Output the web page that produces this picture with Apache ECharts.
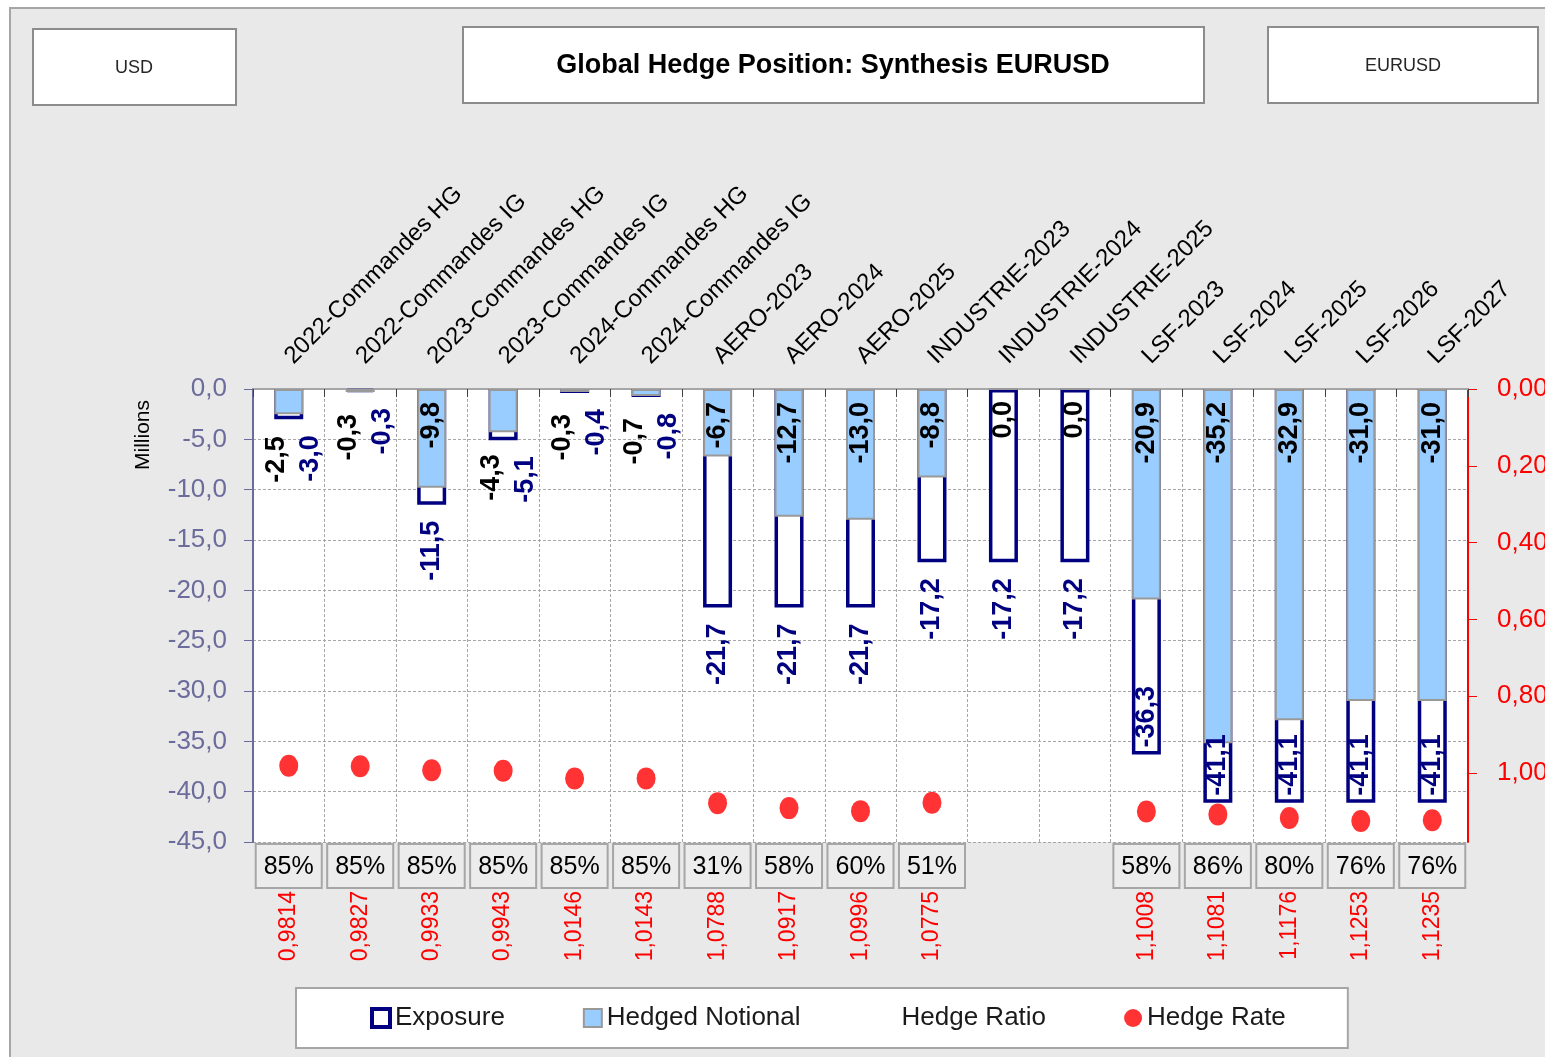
<!DOCTYPE html>
<html>
<head>
<meta charset="utf-8">
<script src="https://cdn.jsdelivr.net/npm/echarts@6/dist/echarts.min.js"></script>
<style>
  html, body { margin: 0; padding: 0; background: #ffffff; }
  #chart { width: 1545px; height: 1057px; }
</style>
</head>
<body>
<div id="chart"></div>
<script>
// ---------- data ----------
const categories = [
  '2022-Commandes HG', '2022-Commandes IG', '2023-Commandes HG', '2023-Commandes IG',
  '2024-Commandes HG', '2024-Commandes IG', 'AERO-2023', 'AERO-2024', 'AERO-2025',
  'INDUSTRIE-2023', 'INDUSTRIE-2024', 'INDUSTRIE-2025',
  'LSF-2023', 'LSF-2024', 'LSF-2025', 'LSF-2026', 'LSF-2027'
];
const exposure = [-3.0, -0.3, -11.5, -5.1, -0.4, -0.8, -21.7, -21.7, -21.7, -17.2, -17.2, -17.2, -36.3, -41.1, -41.1, -41.1, -41.1];
const hedgedNotional = [-2.5, -0.3, -9.8, -4.3, -0.3, -0.7, -6.7, -12.7, -13.0, -8.8, 0.0, 0.0, -20.9, -35.2, -32.9, -31.0, -31.0];
const hedgeRatio = [85, 85, 85, 85, 85, 85, 31, 58, 60, 51, null, null, 58, 86, 80, 76, 76];
const hedgeRate = [0.9814, 0.9827, 0.9933, 0.9943, 1.0146, 1.0143, 1.0788, 1.0917, 1.0996, 1.0775, null, null, 1.1008, 1.1081, 1.1176, 1.1253, 1.1235];
const leftAxis = { min: -45, max: 0, interval: 5 };
const rightAxis = { min: 0, max: 1.18, interval: 0.2 };
const titleText = 'Global Hedge Position: Synthesis EURUSD';
const currencyText = 'USD';
const pairText = 'EURUSD';
const unitText = 'Millions';

// ---------- helpers ----------
const FONT = "'Liberation Sans', Arial, sans-serif";
const comma1 = v => (v == null ? '' : Number(v).toFixed(1).replace('.', ','));
const comma2 = v => Number(v).toFixed(2).replace('.', ',');
const comma4 = v => (v == null ? '' : Number(v).toFixed(4).replace('.', ','));

const barLabelBase = {
  show: true, rotate: 90, fontFamily: FONT, fontSize: 27, fontWeight: 'bold',
  verticalAlign: 'middle', formatter: p => comma1(p.value)
};

// rotated labels: offset is in the text's own (rotated) frame -> [along text, across text]
function exposureLabel(v) {
  if (v <= -30) {
    return Object.assign({}, barLabelBase, { color: '#000080', position: 'insideBottom', align: 'left', distance: 7 });
  }
  const l = Object.assign({}, barLabelBase, { color: '#000080', position: 'bottom', align: 'right', distance: 16 });
  if (v > -6) l.offset = [0, 22];
  return l;
}
function hedgedLabel(v) {
  if (v === 0 || v <= -5) {
    return Object.assign({}, barLabelBase, { color: '#000000', position: 'insideTop', align: 'right', distance: 13 });
  }
  return Object.assign({}, barLabelBase, { color: '#000000', position: 'bottom', align: 'right', distance: 22, offset: [0, -12] });
}

const chart = echarts.init(document.getElementById('chart'), null, { renderer: 'canvas' });

const option = {
  animation: false,
  backgroundColor: '#ffffff',
  textStyle: { fontFamily: FONT },
  graphic: [
    { type: 'rect', z: -10, shape: { x: 10, y: 8, width: 1600, height: 1100 },
      style: { fill: '#e9e9e9', stroke: '#a6a6a6', lineWidth: 2 } },
    { type: 'rect', z: -5, shape: { x: 33, y: 29, width: 203, height: 76 },
      style: { fill: '#ffffff', stroke: '#8c8c8c', lineWidth: 2 } },
    { type: 'text', z: -4, x: 134, y: 68,
      style: { text: currencyText, fontFamily: FONT, fontSize: 18, fill: '#262626', align: 'center', verticalAlign: 'middle' } },
    { type: 'rect', z: -5, shape: { x: 463, y: 27, width: 741, height: 76 },
      style: { fill: '#ffffff', stroke: '#8c8c8c', lineWidth: 2 } },
    { type: 'text', z: -4, x: 833, y: 66,
      style: { text: titleText, fontFamily: FONT, fontSize: 27, fontWeight: 'bold', fill: '#000000', align: 'center', verticalAlign: 'middle' } },
    { type: 'rect', z: -5, shape: { x: 1268, y: 27, width: 270, height: 76 },
      style: { fill: '#ffffff', stroke: '#8c8c8c', lineWidth: 2 } },
    { type: 'text', z: -4, x: 1403, y: 66,
      style: { text: pairText, fontFamily: FONT, fontSize: 18, fill: '#262626', align: 'center', verticalAlign: 'middle' } },
    { type: 'text', x: 143, y: 435, rotation: Math.PI / 2,
      style: { text: unitText, fontFamily: FONT, fontSize: 21, fill: '#000000', align: 'center', verticalAlign: 'middle' } }
  ],
  grid: {
    left: 253, top: 389, width: 1215, height: 453,
    show: true, backgroundColor: '#ffffff', borderWidth: 0,
    containLabel: false, outerBoundsMode: 'none'
  },
  legend: {
    left: 296, top: 988,
    padding: [17, 62, 17, 74],
    itemGap: 78, itemWidth: 18, itemHeight: 18,
    backgroundColor: '#ffffff', borderColor: '#a6a6a6', borderWidth: 2, borderRadius: 0,
    textStyle: { fontFamily: FONT, fontSize: 26, color: '#1a1a1a' },
    data: [
      { name: 'Exposure', icon: 'rect', itemStyle: { borderWidth: 4, borderColor: '#000080', color: '#ffffff' } },
      { name: 'Hedged Notional', icon: 'rect', itemStyle: { borderWidth: 2, borderColor: '#999999', color: '#99ccff' } },
      { name: 'Hedge Ratio', icon: 'rect', itemStyle: { opacity: 0 }, lineStyle: { opacity: 0 } },
      { name: 'Hedge Rate', icon: 'circle' }
    ]
  },
  xAxis: [
    {
      type: 'category', position: 'top', data: categories, boundaryGap: true,
      axisLine: { show: true, lineStyle: { color: '#595959', width: 2 } },
      axisTick: { show: true, inside: true, length: 8, lineStyle: { color: '#404040', width: 1 } },
      axisLabel: { rotate: 45, margin: 29, interval: 0, fontFamily: FONT, fontSize: 24, color: '#000000' },
      splitLine: { show: true, lineStyle: { color: '#a6a6a6', type: [3, 2], width: 1 } }
    },
    {
      type: 'category', position: 'bottom', data: categories, boundaryGap: true,
      axisLine: { show: true, lineStyle: { color: '#a6a6a6', width: 2 } },
      axisTick: { show: false },
      splitLine: { show: false },
      axisLabel: {
        interval: 0, margin: 3,
        formatter: (val, idx) => hedgeRatio[idx] == null ? '' : '{b|' + hedgeRatio[idx] + '%}',
        rich: {
          b: {
            fontFamily: FONT, fontSize: 25, color: '#000000',
            backgroundColor: '#ececec', borderColor: '#a6a6a6', borderWidth: 2,
            padding: [10, 7, 7, 7]
          }
        }
      }
    },
    {
      type: 'category', position: 'bottom', data: categories, boundaryGap: true,
      axisLine: { show: false }, axisTick: { show: false }, splitLine: { show: false },
      axisLabel: {
        interval: 0, rotate: 90, margin: 49,
        fontFamily: FONT, fontSize: 23, color: '#ff0000',
        formatter: (val, idx) => comma4(hedgeRate[idx])
      }
    }
  ],
  yAxis: [
    {
      type: 'value', position: 'left', min: leftAxis.min, max: leftAxis.max, interval: leftAxis.interval,
      axisLine: { show: true, lineStyle: { color: '#6c6c9c', width: 2 } },
      axisTick: { show: true, inside: false, length: 9, lineStyle: { color: '#6c6c9c', width: 1 } },
      axisLabel: { margin: 26, fontFamily: FONT, fontSize: 26, color: '#6c6c9c', formatter: v => comma1(v) },
      splitLine: { show: true, lineStyle: { color: '#a6a6a6', type: [3, 2], width: 1 } }
    },
    {
      type: 'value', position: 'right', inverse: true,
      min: rightAxis.min, max: rightAxis.max, interval: rightAxis.interval,
      axisLine: { show: true, lineStyle: { color: '#ff0000', width: 2 } },
      axisTick: { show: true, inside: false, length: 9, lineStyle: { color: '#ff0000', width: 1 } },
      axisLabel: { margin: 29, fontFamily: FONT, fontSize: 26, color: '#ff0000', showMaxLabel: false, formatter: v => comma2(v) },
      splitLine: { show: false }
    }
  ],
  series: [
    {
      name: 'Exposure', type: 'bar', xAxisIndex: 0, yAxisIndex: 0,
      barWidth: 29, barGap: '-100%',
      itemStyle: { color: '#ffffff', borderColor: '#000080', borderWidth: 3.5 },
      label: { show: false },
      data: exposure,
      z: 2
    },
    {
      name: 'Hedged Notional', type: 'bar', xAxisIndex: 0, yAxisIndex: 0,
      barWidth: 29, barGap: '-100%',
      itemStyle: { color: '#99ccff', borderColor: '#999999', borderWidth: 2 },
      data: hedgedNotional.map(v => ({ value: v, label: hedgedLabel(v) })),
      z: 3
    },
    {
      // transparent overlay carrying the Exposure data labels so they sit above the hedged bars
      name: 'Exposure labels', type: 'bar', xAxisIndex: 0, yAxisIndex: 0,
      barWidth: 29, barGap: '-100%', silent: true,
      itemStyle: { color: 'rgba(0,0,0,0)', borderWidth: 0 },
      data: exposure.map(v => ({ value: v, label: exposureLabel(v) })),
      z: 4
    },
    {
      name: 'Hedge Ratio', type: 'line', xAxisIndex: 0, yAxisIndex: 1,
      data: hedgeRatio.map(v => (v == null ? null : v / 100)),
      showSymbol: false, symbol: 'none', silent: true,
      lineStyle: { opacity: 0 }, itemStyle: { opacity: 0, color: '#ffffff' }
    },
    {
      name: 'Hedge Rate', type: 'scatter', xAxisIndex: 0, yAxisIndex: 1,
      symbol: 'circle', symbolSize: [19, 22],
      itemStyle: { color: '#ff0000' },
      data: hedgeRate,
      z: 5
    }
  ]
};

chart.setOption(option);
</script>
</body>
</html>
